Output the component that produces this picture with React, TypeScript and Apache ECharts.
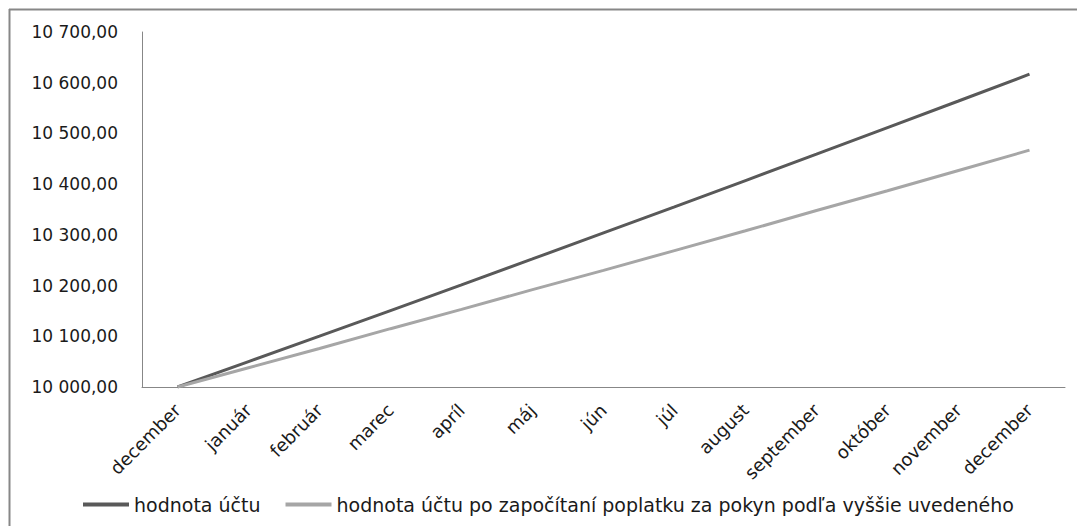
import React, { useEffect, useRef } from "react";
import * as echarts from "echarts";

const months = [
  "december", "január", "február", "marec", "apríl", "máj", "jún",
  "júl", "august", "september", "október", "november", "december",
];
const accountValue = [
  10000, 10050.0, 10100.25, 10150.75, 10201.51, 10252.51, 10303.78,
  10355.29, 10407.07, 10459.11, 10511.4, 10563.96, 10616.78,
];
const accountValueAfterFee = [
  10000, 10038, 10076, 10115, 10153, 10192, 10230,
  10269, 10308, 10348, 10387, 10427, 10467,
];
const seriesNames = [
  "hodnota účtu",
  "hodnota účtu po započítaní poplatku za pokyn podľa vyššie uvedeného",
];

const FONT = "DejaVu Sans";
const TEXT = "#1a1a1a";

function fmt(v: number): string {
  const fixed = v.toFixed(2);
  const [intPart, dec] = fixed.split(".");
  const withSpaces = intPart.replace(/\B(?=(\d{3})+(?!\d))/g, " ");
  return withSpaces + "," + dec;
}

export default function App() {
  const ref = useRef<HTMLDivElement>(null);
  useEffect(() => {
    document.body.style.margin = "0";
    if (!ref.current) return;
    const chart = echarts.init(ref.current, undefined, { renderer: "svg" });
    chart.setOption({
      animation: false,
      backgroundColor: "#ffffff",
      textStyle: { fontFamily: FONT },
      grid: { left: 142, right: 12, top: 32, bottom: 139, containLabel: false },
      graphic: [
        { type: "line", shape: { x1: 9, y1: 9.5, x2: 1077, y2: 9.5 }, style: { stroke: "#878787", lineWidth: 2 } },
        { type: "line", shape: { x1: 9.5, y1: 9, x2: 9.5, y2: 526 }, style: { stroke: "#878787", lineWidth: 2 } },
      ],
      xAxis: {
        type: "category",
        data: months,
        boundaryGap: true,
        axisLine: { show: true, lineStyle: { color: "#878787", width: 1 } },
        axisTick: { show: false },
        axisLabel: { rotate: 45, margin: 20, color: TEXT, fontSize: 18, fontFamily: FONT, interval: 0 },
        splitLine: { show: false },
      },
      yAxis: {
        type: "value",
        min: 10000,
        max: 10700,
        interval: 100,
        axisLine: { show: true, lineStyle: { color: "#878787", width: 1 } },
        axisTick: { show: false },
        splitLine: { show: false },
        axisLabel: { color: TEXT, fontSize: 17, fontFamily: FONT, margin: 24, formatter: (v: number) => fmt(v) },
      },
      legend: {
        bottom: 7,
        left: 78,
        icon: "rect",
        itemWidth: 46,
        itemHeight: 4,
        itemGap: 25,
        textStyle: { color: TEXT, fontSize: 19, fontFamily: FONT },
        data: seriesNames,
      },
      series: [
        {
          name: seriesNames[0],
          type: "line",
          data: accountValue,
          symbol: "none",
          lineStyle: { color: "#595959", width: 3 },
          itemStyle: { color: "#595959" },
        },
        {
          name: seriesNames[1],
          type: "line",
          data: accountValueAfterFee,
          symbol: "none",
          lineStyle: { color: "#a6a6a6", width: 3 },
          itemStyle: { color: "#a6a6a6" },
        },
      ],
    });
    return () => chart.dispose();
  }, []);
  return <div ref={ref} style={{ width: 1077, height: 526 }} />;
}
